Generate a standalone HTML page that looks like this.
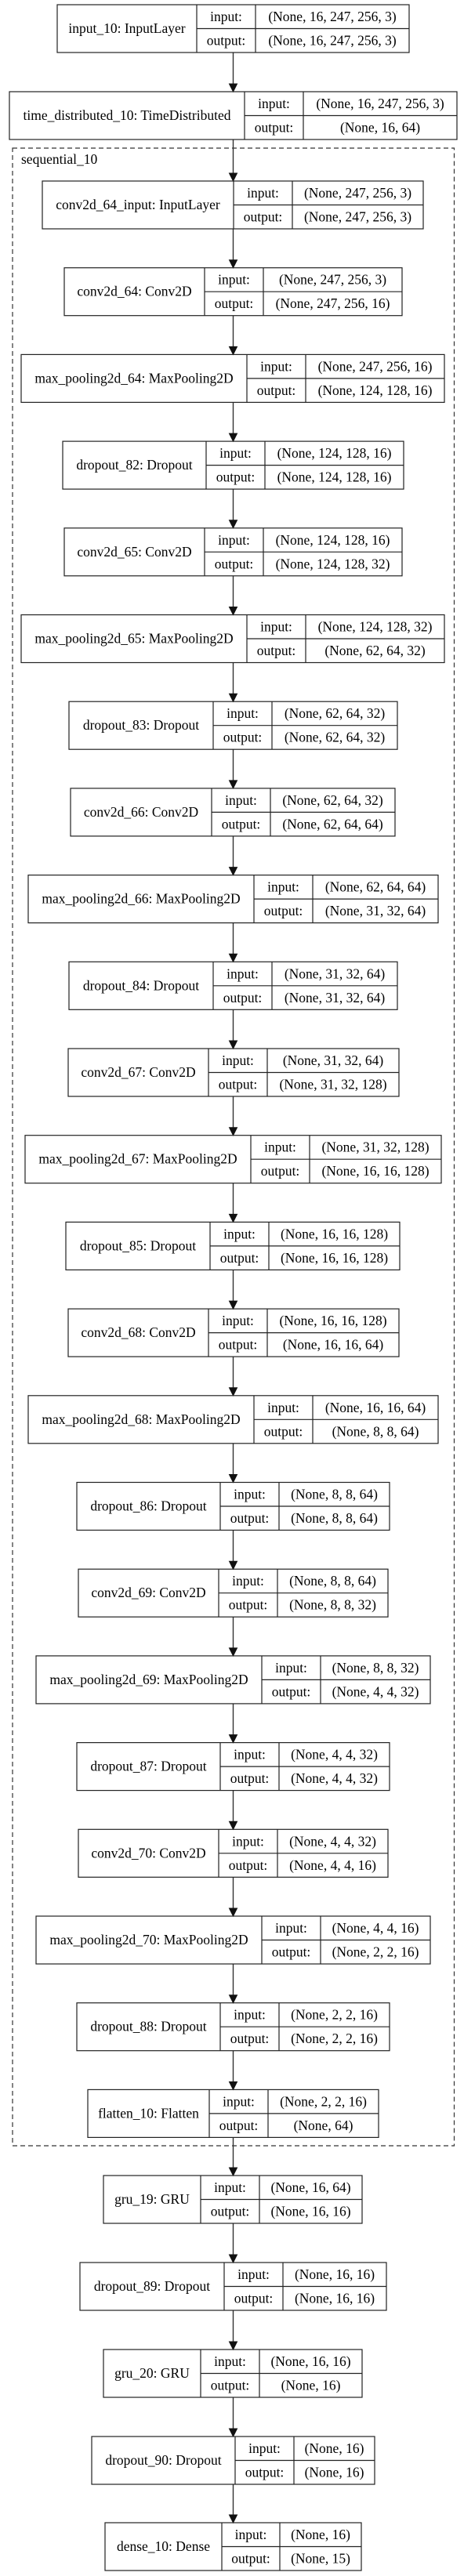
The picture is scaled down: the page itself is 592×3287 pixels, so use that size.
<!DOCTYPE html>
<html><head><meta charset="utf-8"><style>
html,body{margin:0;padding:0;background:#fff;}
svg{display:block;}
text{font-family:"Liberation Serif","Times New Roman",serif;font-size:17.5px;fill:#000;text-anchor:middle;}
.b rect,.b line{stroke:#222;stroke-width:1.2;fill:none;}
.e path{stroke:#333;stroke-width:1.4;fill:none;}
.e polygon{fill:#111;stroke:#111;stroke-width:1;}
</style></head><body>
<svg width="592" height="3287" viewBox="0 0 592 3287" xmlns="http://www.w3.org/2000/svg">
<rect x="0" y="0" width="592" height="3287" fill="#fff"/>
<rect x="16" y="189" width="563.5" height="2549" fill="none" stroke="#333" stroke-width="1.2" stroke-dasharray="6,4"/>
<text x="27" y="209" style="text-anchor:start">sequential_10</text>

<g class="e">
<path d="M297.5 67V107"/><polygon points="292.5,107 297.5,117 302.5,107"/>
<path d="M297.5 178V221"/><polygon points="292.5,221 297.5,231 302.5,221"/>
<path d="M297.5 292V331.7"/><polygon points="292.5,331.7 297.5,341.7 302.5,331.7"/>
<path d="M297.5 402.7V442.4"/><polygon points="292.5,442.4 297.5,452.4 302.5,442.4"/>
<path d="M297.5 513.4V553.1"/><polygon points="292.5,553.1 297.5,563.1 302.5,553.1"/>
<path d="M297.5 624.1V663.8"/><polygon points="292.5,663.8 297.5,673.8 302.5,663.8"/>
<path d="M297.5 734.8V774.5"/><polygon points="292.5,774.5 297.5,784.5 302.5,774.5"/>
<path d="M297.5 845.5V885.2"/><polygon points="292.5,885.2 297.5,895.2 302.5,885.2"/>
<path d="M297.5 956.2V995.9"/><polygon points="292.5,995.9 297.5,1005.9 302.5,995.9"/>
<path d="M297.5 1066.9V1106.6"/><polygon points="292.5,1106.6 297.5,1116.6 302.5,1106.6"/>
<path d="M297.5 1177.6V1217.3"/><polygon points="292.5,1217.3 297.5,1227.3 302.5,1217.3"/>
<path d="M297.5 1288.3V1328"/><polygon points="292.5,1328 297.5,1338 302.5,1328"/>
<path d="M297.5 1399V1438.7"/><polygon points="292.5,1438.7 297.5,1448.7 302.5,1438.7"/>
<path d="M297.5 1509.7V1549.4"/><polygon points="292.5,1549.4 297.5,1559.4 302.5,1549.4"/>
<path d="M297.5 1620.4V1660.1"/><polygon points="292.5,1660.1 297.5,1670.1 302.5,1660.1"/>
<path d="M297.5 1731.1V1770.8"/><polygon points="292.5,1770.8 297.5,1780.8 302.5,1770.8"/>
<path d="M297.5 1841.8V1881.5"/><polygon points="292.5,1881.5 297.5,1891.5 302.5,1881.5"/>
<path d="M297.5 1952.5V1992.2"/><polygon points="292.5,1992.2 297.5,2002.2 302.5,1992.2"/>
<path d="M297.5 2063.2V2102.9"/><polygon points="292.5,2102.9 297.5,2112.9 302.5,2102.9"/>
<path d="M297.5 2173.9V2213.6"/><polygon points="292.5,2213.6 297.5,2223.6 302.5,2213.6"/>
<path d="M297.5 2284.6V2324.3"/><polygon points="292.5,2324.3 297.5,2334.3 302.5,2324.3"/>
<path d="M297.5 2395.3V2435"/><polygon points="292.5,2435 297.5,2445 302.5,2435"/>
<path d="M297.5 2506V2545.7"/><polygon points="292.5,2545.7 297.5,2555.7 302.5,2545.7"/>
<path d="M297.5 2616.7V2656.4"/><polygon points="292.5,2656.4 297.5,2666.4 302.5,2656.4"/>
<path d="M297.5 2727.4V2766"/><polygon points="292.5,2766 297.5,2776 302.5,2766"/>
<path d="M297.5 2837V2877"/><polygon points="292.5,2877 297.5,2887 302.5,2877"/>
<path d="M297.5 2948V2988"/><polygon points="292.5,2988 297.5,2998 302.5,2988"/>
<path d="M297.5 3059V3099"/><polygon points="292.5,3099 297.5,3109 302.5,3099"/>
<path d="M297.5 3170V3209"/><polygon points="292.5,3209 297.5,3219 302.5,3209"/>
</g>

<g class="b" transform="translate(0,6)"><rect x="73" y="0" width="449" height="61" fill="#fff"/><line x1="251" y1="0" x2="251" y2="61"/><line x1="326" y1="0" x2="326" y2="61"/><line x1="251" y1="30.5" x2="522" y2="30.5"/>
<text x="162" y="36">input_10: InputLayer</text><text x="288.5" y="21">input:</text><text x="288.5" y="51.5">output:</text><text x="424" y="21">(None, 16, 247, 256, 3)</text><text x="424" y="51.5">(None, 16, 247, 256, 3)</text></g>

<g class="b" transform="translate(0,117)"><rect x="12" y="0" width="571" height="61" fill="#fff"/><line x1="312" y1="0" x2="312" y2="61"/><line x1="387" y1="0" x2="387" y2="61"/><line x1="312" y1="30.5" x2="583" y2="30.5"/>
<text x="162" y="36">time_distributed_10: TimeDistributed</text><text x="349.5" y="21">input:</text><text x="349.5" y="51.5">output:</text><text x="485" y="21">(None, 16, 247, 256, 3)</text><text x="485" y="51.5">(None, 16, 64)</text></g>

<g class="b" transform="translate(0,231)"><rect x="54" y="0" width="486" height="61" fill="#fff"/><line x1="298" y1="0" x2="298" y2="61"/><line x1="373" y1="0" x2="373" y2="61"/><line x1="298" y1="30.5" x2="540" y2="30.5"/>
<text x="176" y="36">conv2d_64_input: InputLayer</text><text x="335.5" y="21">input:</text><text x="335.5" y="51.5">output:</text><text x="456.5" y="21">(None, 247, 256, 3)</text><text x="456.5" y="51.5">(None, 247, 256, 3)</text></g>

<g class="b" transform="translate(0,341.7)"><rect x="82" y="0" width="431" height="61" fill="#fff"/><line x1="261" y1="0" x2="261" y2="61"/><line x1="336" y1="0" x2="336" y2="61"/><line x1="261" y1="30.5" x2="513" y2="30.5"/>
<text x="171.5" y="36">conv2d_64: Conv2D</text><text x="298.5" y="21">input:</text><text x="298.5" y="51.5">output:</text><text x="424.5" y="21">(None, 247, 256, 3)</text><text x="424.5" y="51.5">(None, 247, 256, 16)</text></g>

<g class="b" transform="translate(0,452.4)"><rect x="27" y="0" width="540" height="61" fill="#fff"/><line x1="315" y1="0" x2="315" y2="61"/><line x1="390" y1="0" x2="390" y2="61"/><line x1="315" y1="30.5" x2="567" y2="30.5"/>
<text x="171" y="36">max_pooling2d_64: MaxPooling2D</text><text x="352.5" y="21">input:</text><text x="352.5" y="51.5">output:</text><text x="478.5" y="21">(None, 247, 256, 16)</text><text x="478.5" y="51.5">(None, 124, 128, 16)</text></g>

<g class="b" transform="translate(0,563.1)"><rect x="80" y="0" width="435" height="61" fill="#fff"/><line x1="263" y1="0" x2="263" y2="61"/><line x1="338" y1="0" x2="338" y2="61"/><line x1="263" y1="30.5" x2="515" y2="30.5"/>
<text x="171.5" y="36">dropout_82: Dropout</text><text x="300.5" y="21">input:</text><text x="300.5" y="51.5">output:</text><text x="426.5" y="21">(None, 124, 128, 16)</text><text x="426.5" y="51.5">(None, 124, 128, 16)</text></g>

<g class="b" transform="translate(0,673.8)"><rect x="82" y="0" width="431" height="61" fill="#fff"/><line x1="261" y1="0" x2="261" y2="61"/><line x1="336" y1="0" x2="336" y2="61"/><line x1="261" y1="30.5" x2="513" y2="30.5"/>
<text x="171.5" y="36">conv2d_65: Conv2D</text><text x="298.5" y="21">input:</text><text x="298.5" y="51.5">output:</text><text x="424.5" y="21">(None, 124, 128, 16)</text><text x="424.5" y="51.5">(None, 124, 128, 32)</text></g>

<g class="b" transform="translate(0,784.5)"><rect x="27" y="0" width="540" height="61" fill="#fff"/><line x1="315" y1="0" x2="315" y2="61"/><line x1="390" y1="0" x2="390" y2="61"/><line x1="315" y1="30.5" x2="567" y2="30.5"/>
<text x="171" y="36">max_pooling2d_65: MaxPooling2D</text><text x="352.5" y="21">input:</text><text x="352.5" y="51.5">output:</text><text x="478.5" y="21">(None, 124, 128, 32)</text><text x="478.5" y="51.5">(None, 62, 64, 32)</text></g>

<g class="b" transform="translate(0,895.2)"><rect x="88" y="0" width="419" height="61" fill="#fff"/><line x1="272" y1="0" x2="272" y2="61"/><line x1="347" y1="0" x2="347" y2="61"/><line x1="272" y1="30.5" x2="507" y2="30.5"/>
<text x="180" y="36">dropout_83: Dropout</text><text x="309.5" y="21">input:</text><text x="309.5" y="51.5">output:</text><text x="427" y="21">(None, 62, 64, 32)</text><text x="427" y="51.5">(None, 62, 64, 32)</text></g>

<g class="b" transform="translate(0,1005.9)"><rect x="90" y="0" width="414" height="61" fill="#fff"/><line x1="270" y1="0" x2="270" y2="61"/><line x1="345" y1="0" x2="345" y2="61"/><line x1="270" y1="30.5" x2="504" y2="30.5"/>
<text x="180" y="36">conv2d_66: Conv2D</text><text x="307.5" y="21">input:</text><text x="307.5" y="51.5">output:</text><text x="424.5" y="21">(None, 62, 64, 32)</text><text x="424.5" y="51.5">(None, 62, 64, 64)</text></g>

<g class="b" transform="translate(0,1116.6)"><rect x="36" y="0" width="523" height="61" fill="#fff"/><line x1="324" y1="0" x2="324" y2="61"/><line x1="399" y1="0" x2="399" y2="61"/><line x1="324" y1="30.5" x2="559" y2="30.5"/>
<text x="180" y="36">max_pooling2d_66: MaxPooling2D</text><text x="361.5" y="21">input:</text><text x="361.5" y="51.5">output:</text><text x="479" y="21">(None, 62, 64, 64)</text><text x="479" y="51.5">(None, 31, 32, 64)</text></g>

<g class="b" transform="translate(0,1227.3)"><rect x="88" y="0" width="419" height="61" fill="#fff"/><line x1="272" y1="0" x2="272" y2="61"/><line x1="347" y1="0" x2="347" y2="61"/><line x1="272" y1="30.5" x2="507" y2="30.5"/>
<text x="180" y="36">dropout_84: Dropout</text><text x="309.5" y="21">input:</text><text x="309.5" y="51.5">output:</text><text x="427" y="21">(None, 31, 32, 64)</text><text x="427" y="51.5">(None, 31, 32, 64)</text></g>

<g class="b" transform="translate(0,1338)"><rect x="87" y="0" width="422" height="61" fill="#fff"/><line x1="266" y1="0" x2="266" y2="61"/><line x1="341" y1="0" x2="341" y2="61"/><line x1="266" y1="30.5" x2="509" y2="30.5"/>
<text x="176.5" y="36">conv2d_67: Conv2D</text><text x="303.5" y="21">input:</text><text x="303.5" y="51.5">output:</text><text x="425" y="21">(None, 31, 32, 64)</text><text x="425" y="51.5">(None, 31, 32, 128)</text></g>

<g class="b" transform="translate(0,1448.7)"><rect x="32" y="0" width="531" height="61" fill="#fff"/><line x1="320" y1="0" x2="320" y2="61"/><line x1="395" y1="0" x2="395" y2="61"/><line x1="320" y1="30.5" x2="563" y2="30.5"/>
<text x="176" y="36">max_pooling2d_67: MaxPooling2D</text><text x="357.5" y="21">input:</text><text x="357.5" y="51.5">output:</text><text x="479" y="21">(None, 31, 32, 128)</text><text x="479" y="51.5">(None, 16, 16, 128)</text></g>

<g class="b" transform="translate(0,1559.4)"><rect x="84" y="0" width="426" height="61" fill="#fff"/><line x1="268" y1="0" x2="268" y2="61"/><line x1="343" y1="0" x2="343" y2="61"/><line x1="268" y1="30.5" x2="510" y2="30.5"/>
<text x="176" y="36">dropout_85: Dropout</text><text x="305.5" y="21">input:</text><text x="305.5" y="51.5">output:</text><text x="426.5" y="21">(None, 16, 16, 128)</text><text x="426.5" y="51.5">(None, 16, 16, 128)</text></g>

<g class="b" transform="translate(0,1670.1)"><rect x="87" y="0" width="422" height="61" fill="#fff"/><line x1="266" y1="0" x2="266" y2="61"/><line x1="341" y1="0" x2="341" y2="61"/><line x1="266" y1="30.5" x2="509" y2="30.5"/>
<text x="176.5" y="36">conv2d_68: Conv2D</text><text x="303.5" y="21">input:</text><text x="303.5" y="51.5">output:</text><text x="425" y="21">(None, 16, 16, 128)</text><text x="425" y="51.5">(None, 16, 16, 64)</text></g>

<g class="b" transform="translate(0,1780.8)"><rect x="36" y="0" width="523" height="61" fill="#fff"/><line x1="324" y1="0" x2="324" y2="61"/><line x1="399" y1="0" x2="399" y2="61"/><line x1="324" y1="30.5" x2="559" y2="30.5"/>
<text x="180" y="36">max_pooling2d_68: MaxPooling2D</text><text x="361.5" y="21">input:</text><text x="361.5" y="51.5">output:</text><text x="479" y="21">(None, 16, 16, 64)</text><text x="479" y="51.5">(None, 8, 8, 64)</text></g>

<g class="b" transform="translate(0,1891.5)"><rect x="98" y="0" width="399" height="61" fill="#fff"/><line x1="281" y1="0" x2="281" y2="61"/><line x1="356" y1="0" x2="356" y2="61"/><line x1="281" y1="30.5" x2="497" y2="30.5"/>
<text x="189.5" y="36">dropout_86: Dropout</text><text x="318.5" y="21">input:</text><text x="318.5" y="51.5">output:</text><text x="426.5" y="21">(None, 8, 8, 64)</text><text x="426.5" y="51.5">(None, 8, 8, 64)</text></g>

<g class="b" transform="translate(0,2002.2)"><rect x="100" y="0" width="395" height="61" fill="#fff"/><line x1="279" y1="0" x2="279" y2="61"/><line x1="354" y1="0" x2="354" y2="61"/><line x1="279" y1="30.5" x2="495" y2="30.5"/>
<text x="189.5" y="36">conv2d_69: Conv2D</text><text x="316.5" y="21">input:</text><text x="316.5" y="51.5">output:</text><text x="424.5" y="21">(None, 8, 8, 64)</text><text x="424.5" y="51.5">(None, 8, 8, 32)</text></g>

<g class="b" transform="translate(0,2112.9)"><rect x="46" y="0" width="503" height="61" fill="#fff"/><line x1="334" y1="0" x2="334" y2="61"/><line x1="409" y1="0" x2="409" y2="61"/><line x1="334" y1="30.5" x2="549" y2="30.5"/>
<text x="190" y="36">max_pooling2d_69: MaxPooling2D</text><text x="371.5" y="21">input:</text><text x="371.5" y="51.5">output:</text><text x="479" y="21">(None, 8, 8, 32)</text><text x="479" y="51.5">(None, 4, 4, 32)</text></g>

<g class="b" transform="translate(0,2223.6)"><rect x="98" y="0" width="399" height="61" fill="#fff"/><line x1="281" y1="0" x2="281" y2="61"/><line x1="356" y1="0" x2="356" y2="61"/><line x1="281" y1="30.5" x2="497" y2="30.5"/>
<text x="189.5" y="36">dropout_87: Dropout</text><text x="318.5" y="21">input:</text><text x="318.5" y="51.5">output:</text><text x="426.5" y="21">(None, 4, 4, 32)</text><text x="426.5" y="51.5">(None, 4, 4, 32)</text></g>

<g class="b" transform="translate(0,2334.3)"><rect x="100" y="0" width="395" height="61" fill="#fff"/><line x1="279" y1="0" x2="279" y2="61"/><line x1="354" y1="0" x2="354" y2="61"/><line x1="279" y1="30.5" x2="495" y2="30.5"/>
<text x="189.5" y="36">conv2d_70: Conv2D</text><text x="316.5" y="21">input:</text><text x="316.5" y="51.5">output:</text><text x="424.5" y="21">(None, 4, 4, 32)</text><text x="424.5" y="51.5">(None, 4, 4, 16)</text></g>

<g class="b" transform="translate(0,2445)"><rect x="46" y="0" width="503" height="61" fill="#fff"/><line x1="334" y1="0" x2="334" y2="61"/><line x1="409" y1="0" x2="409" y2="61"/><line x1="334" y1="30.5" x2="549" y2="30.5"/>
<text x="190" y="36">max_pooling2d_70: MaxPooling2D</text><text x="371.5" y="21">input:</text><text x="371.5" y="51.5">output:</text><text x="479" y="21">(None, 4, 4, 16)</text><text x="479" y="51.5">(None, 2, 2, 16)</text></g>

<g class="b" transform="translate(0,2555.7)"><rect x="98" y="0" width="399" height="61" fill="#fff"/><line x1="281" y1="0" x2="281" y2="61"/><line x1="356" y1="0" x2="356" y2="61"/><line x1="281" y1="30.5" x2="497" y2="30.5"/>
<text x="189.5" y="36">dropout_88: Dropout</text><text x="318.5" y="21">input:</text><text x="318.5" y="51.5">output:</text><text x="426.5" y="21">(None, 2, 2, 16)</text><text x="426.5" y="51.5">(None, 2, 2, 16)</text></g>

<g class="b" transform="translate(0,2666.4)"><rect x="112" y="0" width="371" height="61" fill="#fff"/><line x1="267" y1="0" x2="267" y2="61"/><line x1="342" y1="0" x2="342" y2="61"/><line x1="267" y1="30.5" x2="483" y2="30.5"/>
<text x="189.5" y="36">flatten_10: Flatten</text><text x="304.5" y="21">input:</text><text x="304.5" y="51.5">output:</text><text x="412.5" y="21">(None, 2, 2, 16)</text><text x="412.5" y="51.5">(None, 64)</text></g>

<g class="b" transform="translate(0,2776)"><rect x="132" y="0" width="330" height="61" fill="#fff"/><line x1="256" y1="0" x2="256" y2="61"/><line x1="331" y1="0" x2="331" y2="61"/><line x1="256" y1="30.5" x2="462" y2="30.5"/>
<text x="194" y="36">gru_19: GRU</text><text x="293.5" y="21">input:</text><text x="293.5" y="51.5">output:</text><text x="396.5" y="21">(None, 16, 64)</text><text x="396.5" y="51.5">(None, 16, 16)</text></g>

<g class="b" transform="translate(0,2887)"><rect x="102" y="0" width="391" height="61" fill="#fff"/><line x1="286" y1="0" x2="286" y2="61"/><line x1="361" y1="0" x2="361" y2="61"/><line x1="286" y1="30.5" x2="493" y2="30.5"/>
<text x="194" y="36">dropout_89: Dropout</text><text x="323.5" y="21">input:</text><text x="323.5" y="51.5">output:</text><text x="427" y="21">(None, 16, 16)</text><text x="427" y="51.5">(None, 16, 16)</text></g>

<g class="b" transform="translate(0,2998)"><rect x="132" y="0" width="330" height="61" fill="#fff"/><line x1="256" y1="0" x2="256" y2="61"/><line x1="331" y1="0" x2="331" y2="61"/><line x1="256" y1="30.5" x2="462" y2="30.5"/>
<text x="194" y="36">gru_20: GRU</text><text x="293.5" y="21">input:</text><text x="293.5" y="51.5">output:</text><text x="396.5" y="21">(None, 16, 16)</text><text x="396.5" y="51.5">(None, 16)</text></g>

<g class="b" transform="translate(0,3109)"><rect x="117" y="0" width="361" height="61" fill="#fff"/><line x1="300" y1="0" x2="300" y2="61"/><line x1="375" y1="0" x2="375" y2="61"/><line x1="300" y1="30.5" x2="478" y2="30.5"/>
<text x="208.5" y="36">dropout_90: Dropout</text><text x="337.5" y="21">input:</text><text x="337.5" y="51.5">output:</text><text x="426.5" y="21">(None, 16)</text><text x="426.5" y="51.5">(None, 16)</text></g>

<g class="b" transform="translate(0,3219)"><rect x="134" y="0" width="327" height="61" fill="#fff"/><line x1="283" y1="0" x2="283" y2="61"/><line x1="357" y1="0" x2="357" y2="61"/><line x1="283" y1="30.5" x2="461" y2="30.5"/>
<text x="208.5" y="36">dense_10: Dense</text><text x="320" y="21">input:</text><text x="320" y="51.5">output:</text><text x="409" y="21">(None, 16)</text><text x="409" y="51.5">(None, 15)</text></g>
</svg>
</body></html>
